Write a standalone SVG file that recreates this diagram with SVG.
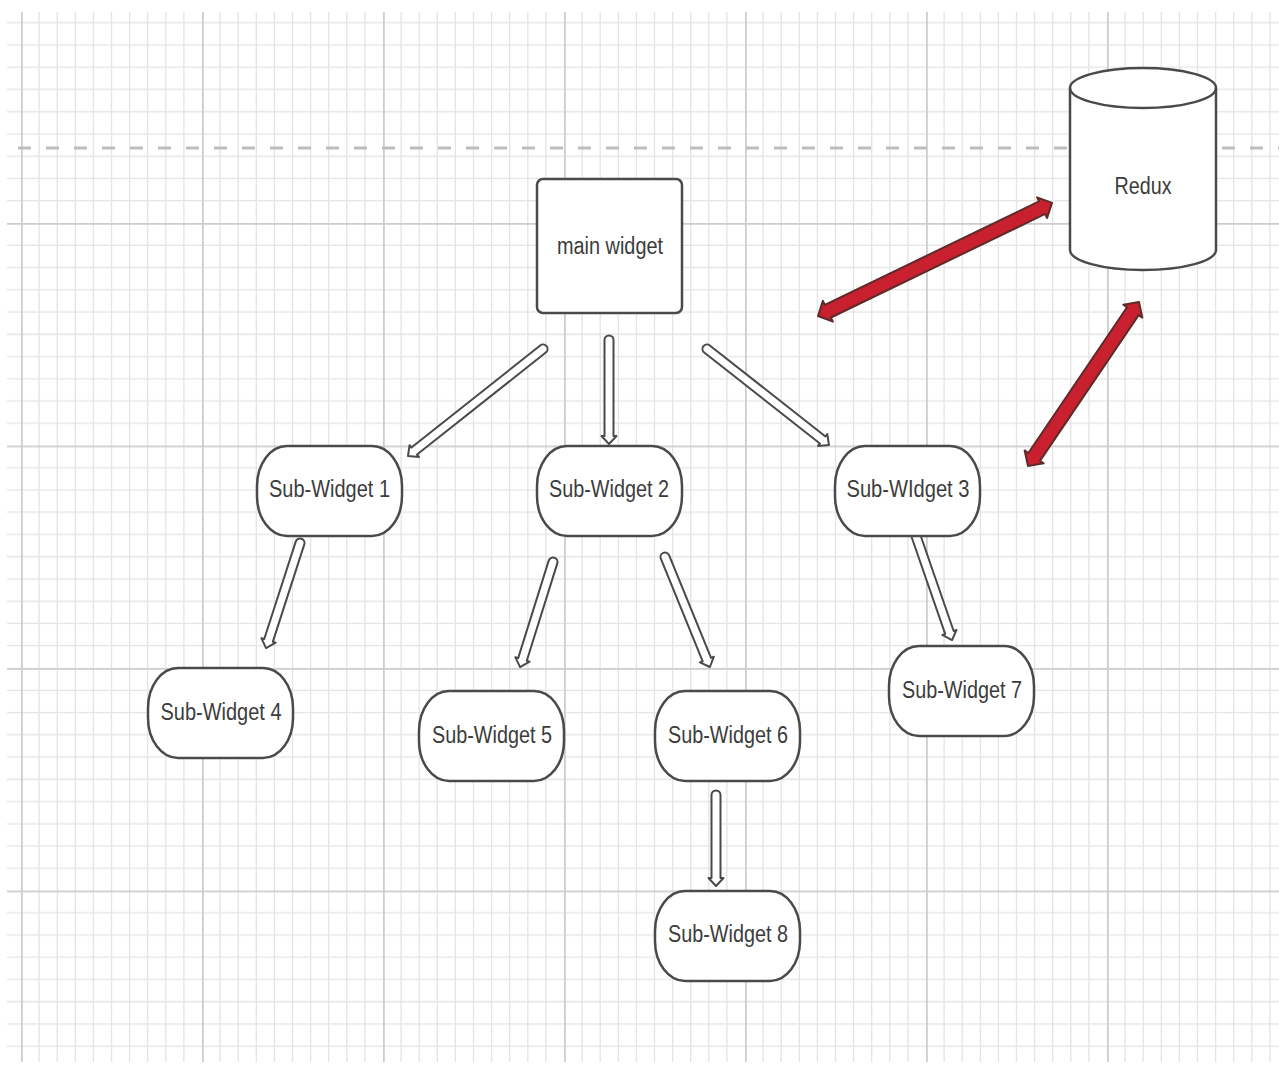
<svg xmlns="http://www.w3.org/2000/svg" width="1279" height="1065" viewBox="0 0 1279 1065">
<style>
.node{fill:#fff;stroke:#4a4a4a;stroke-width:2.5}
.lbl{font-family:"Liberation Sans",Arial,sans-serif;font-size:23px;fill:#3c3c3c;text-anchor:middle;dominant-baseline:central}
.harrow{fill:#fff;stroke:#4a4a4a;stroke-width:2;stroke-linejoin:round}
.rarrow{fill:#c8202e;stroke:#5e2a2a;stroke-width:2;stroke-linejoin:round}
</style>
<defs>
<pattern id="grid" patternUnits="userSpaceOnUse" x="21" y="223" width="181" height="222.5">
<g stroke="#e4e4e4" stroke-width="1.3">
<path d="M18.1,0V222.5M36.2,0V222.5M54.3,0V222.5M72.4,0V222.5M90.5,0V222.5M108.6,0V222.5M126.7,0V222.5M144.8,0V222.5M162.9,0V222.5"/>
<path d="M0,22.25H181M0,44.5H181M0,66.75H181M0,89H181M0,111.25H181M0,133.5H181M0,155.75H181M0,178H181M0,200.25H181"/>
</g>
<path d="M0.8,0V222.5M0,0.8H181" stroke="#cdcdcd" stroke-width="2"/>
</pattern>
</defs>
<rect width="1279" height="1065" fill="#fff"/>
<rect x="7" y="12" width="1272" height="1050" fill="url(#grid)"/>
<line x1="18" y1="148" x2="1279" y2="148" stroke="#bdbdbd" stroke-width="3" stroke-dasharray="13 15"/>

<g id="connectors">
<path class="harrow" transform="translate(543,349) rotate(141.6)" d="M0,-4.5H164.3V-7.5L172.3,0L164.3,7.5V4.5H0A4.5,4.5 0 0 1 0,-4.5Z"/>
<path class="harrow" transform="translate(609,340) rotate(90)" d="M0,-4.5H96V-7.5L104,0L96,7.5V4.5H0A4.5,4.5 0 0 1 0,-4.5Z"/>
<path class="harrow" transform="translate(707,349) rotate(38.2)" d="M0,-4.5H147.2V-7.5L155.2,0L147.2,7.5V4.5H0A4.5,4.5 0 0 1 0,-4.5Z"/>
<path class="harrow" transform="translate(300,543) rotate(107.9)" d="M0,-4.5H102.4V-7.5L110.4,0L102.4,7.5V4.5H0A4.5,4.5 0 0 1 0,-4.5Z"/>
<path class="harrow" transform="translate(553,562) rotate(107.4)" d="M0,-4.5H102.1V-7.5L110.1,0L102.1,7.5V4.5H0A4.5,4.5 0 0 1 0,-4.5Z"/>
<path class="harrow" transform="translate(665,557) rotate(67.8)" d="M0,-4.5H110.8V-7.5L118.8,0L110.8,7.5V4.5H0A4.5,4.5 0 0 1 0,-4.5Z"/>
<path class="harrow" transform="translate(916,536) rotate(70.9)" d="M0,-4.5H102.1V-7.5L110.1,0L102.1,7.5V4.5H0A4.5,4.5 0 0 1 0,-4.5Z"/>
<path class="harrow" transform="translate(716,795) rotate(90)" d="M0,-4.5H83V-7.5L91,0L83,7.5V4.5H0A4.5,4.5 0 0 1 0,-4.5Z"/>
<path class="rarrow" transform="translate(818,316) rotate(-25.8)" d="M0,0L11,-11.5V-7H248.9V-11.5L259.9,0L248.9,11.5V7H11V11.5Z"/>
<path class="rarrow" transform="translate(1028,466) rotate(-55.9)" d="M0,0L11,-11.5V-7H187V-11.5L198,0L187,11.5V7H11V11.5Z"/>
</g>

<g id="main-widget">
<rect class="node" x="537" y="179" width="145" height="134" rx="6"/>
<text class="lbl" x="610" y="246" textLength="106" lengthAdjust="spacingAndGlyphs">main widget</text>
</g>
<g id="redux">
<path class="node" d="M1070,88V250A73,20 0 0 0 1216,250V88A73,20 0 0 0 1070,88Z"/>
<path d="M1070,88A73,20 0 0 0 1216,88" fill="none" stroke="#4a4a4a" stroke-width="2.5"/>
<text class="lbl" x="1143" y="186" textLength="57" lengthAdjust="spacingAndGlyphs">Redux</text>
</g>
<g id="sub-widget-1">
<rect class="node" x="257" y="446" width="145" height="90" rx="30" ry="40"/>
<text class="lbl" x="329.5" y="489" textLength="121" lengthAdjust="spacingAndGlyphs">Sub-Widget 1</text>
</g>
<g id="sub-widget-2">
<rect class="node" x="537" y="446" width="145" height="90" rx="30" ry="40"/>
<text class="lbl" x="609" y="489" textLength="120" lengthAdjust="spacingAndGlyphs">Sub-Widget 2</text>
</g>
<g id="sub-widget-3">
<rect class="node" x="835" y="446" width="145" height="90" rx="30" ry="40"/>
<text class="lbl" x="908" y="489" textLength="123" lengthAdjust="spacingAndGlyphs">Sub-WIdget 3</text>
</g>
<g id="sub-widget-4">
<rect class="node" x="148" y="668" width="145" height="90" rx="30" ry="40"/>
<text class="lbl" x="221" y="712" textLength="121" lengthAdjust="spacingAndGlyphs">Sub-Widget 4</text>
</g>
<g id="sub-widget-5">
<rect class="node" x="419" y="691" width="145" height="90" rx="30" ry="40"/>
<text class="lbl" x="492" y="735" textLength="120" lengthAdjust="spacingAndGlyphs">Sub-Widget 5</text>
</g>
<g id="sub-widget-6">
<rect class="node" x="655" y="691" width="145" height="90" rx="30" ry="40"/>
<text class="lbl" x="728" y="735" textLength="120" lengthAdjust="spacingAndGlyphs">Sub-Widget 6</text>
</g>
<g id="sub-widget-7">
<rect class="node" x="889" y="646" width="145" height="90" rx="30" ry="40"/>
<text class="lbl" x="962" y="690" textLength="120" lengthAdjust="spacingAndGlyphs">Sub-Widget 7</text>
</g>
<g id="sub-widget-8">
<rect class="node" x="655" y="891" width="145" height="90" rx="30" ry="40"/>
<text class="lbl" x="728" y="934" textLength="120" lengthAdjust="spacingAndGlyphs">Sub-Widget 8</text>
</g>
</svg>
